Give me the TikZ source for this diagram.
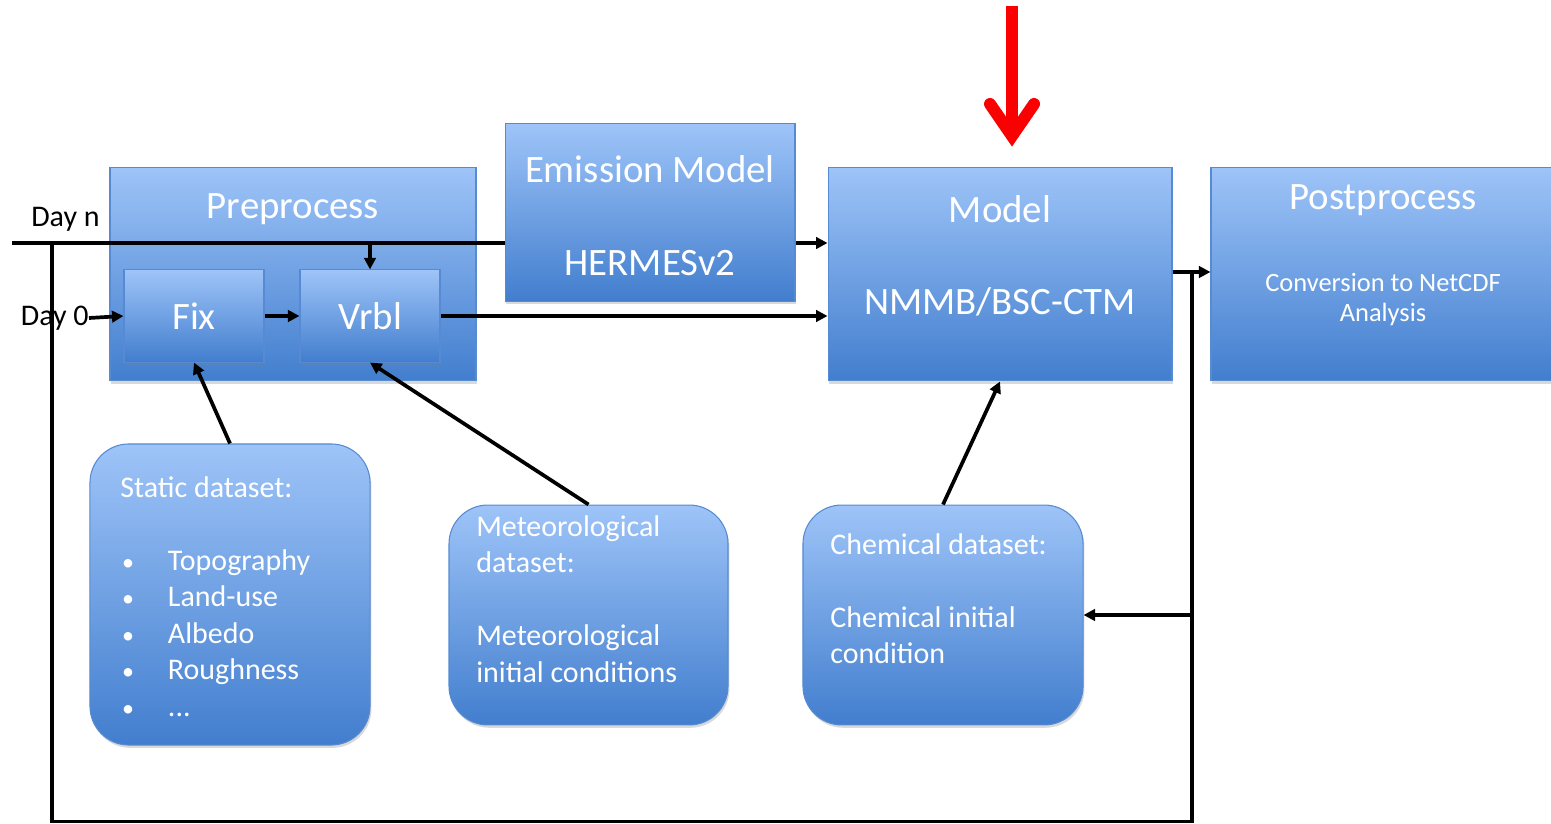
\documentclass[tikz,border=0pt]{standalone}
\usepackage{fontspec}
\setmainfont{Carlito}
\usetikzlibrary{arrows.meta,shadows}
\definecolor{boxtop}{RGB}{158,196,248}
\definecolor{boxbot}{RGB}{66,126,206}
\definecolor{boxline}{RGB}{86,138,210}
\definecolor{alarm}{RGB}{250,0,0}
\tikzset{
  blk/.style={draw=boxline,line width=0.6pt,top color=boxtop,bottom color=boxbot,
    inner sep=0pt,drop shadow={shadow xshift=0.8pt,shadow yshift=-1.6pt,opacity=0.3}},
  databox/.style={blk,rounded corners=22pt},
  ttl/.style={text=white,font=\fontsize{22}{26}\selectfont},
  sub/.style={text=white,font=\fontsize{15}{17}\selectfont,align=center},
  listtxt/.style={text=white,font=\fontsize{17}{20.7}\selectfont,align=left,anchor=north west,inner sep=0pt},
  daylbl/.style={font=\fontsize{17}{19}\selectfont},
  arr/.style={line width=2.1pt,-{Triangle[length=6.5pt,width=6.5pt]}},
  wire/.style={line width=2.1pt}
}
\newcommand{\itm}[1]{\makebox[27pt][l]{\hspace{1pt}\scalebox{0.8}{•}}#1}
\begin{document}
\begin{tikzpicture}[x=0.567pt,y=-0.567pt]
\useasboundingbox (0,0) rectangle (1551,824);
% upper row
\node[blk,minimum width=207.5pt,minimum height=121.3pt] (pre) at (293,274) {};
\node[ttl] (pretxt) at (293,209) {Preprocess};
% day n line runs over the preprocess box
\coordinate (dayn) at (12,243);
\coordinate (tl) at (52,243);
\draw[wire] (dayn) -- (505,243);
\node[blk,minimum width=164.4pt,minimum height=100.4pt] (emis) at (650,212.5) {};
\node[ttl] (emistxt) at (650,169) {Emission Model};
\node[ttl] (hermes) at (650,263) {HERMESv2};
\node[blk,ttl,minimum width=79.4pt,minimum height=52.2pt] (fix) at (194,316) {Fix};
\node[blk,ttl,minimum width=79.4pt,minimum height=52.2pt] (vrbl) at (370,316) {Vrbl};
\node[blk,minimum width=195pt,minimum height=121.3pt] (model) at (1000,274) {};
\node[ttl] (modeltxt) at (1000,209) {Model};
\node[ttl] (nmmb) at (1000,302) {NMMB/BSC-CTM};
\node[blk,minimum width=198.5pt,minimum height=121.3pt] (post) at (1386,274) {};
\node[ttl] (posttxt) at (1383,200) {Postprocess};
\node[sub] (conv) at (1383,300) {Conversion to NetCDF\\Analysis};
% labels
\node[daylbl,anchor=east,inner sep=0pt] (daynlbl) at (100,219) {Day n};
\node[daylbl,anchor=east,inner sep=0pt] (day0lbl) at (89,318) {Day 0};
% datasets
\node[databox,minimum width=158.8pt,minimum height=170.7pt] (static) at (230,594.5) {};
\node[listtxt] (statictxt) at (120,476) {Static dataset:\\[20.7pt]
  \itm{Topography}\\ \itm{Land-use}\\ \itm{Albedo}\\ \itm{Roughness}\\ \itm{...}};
\node[databox,minimum width=158.2pt,minimum height=124.7pt] (met) at (588.5,615) {};
\node[listtxt] (mettxt) at (476,515) {Meteorological\\dataset:\\[20.7pt]
  Meteorological\\initial conditions};
\node[databox,minimum width=158.8pt,minimum height=124.7pt] (chem) at (943,615) {};
\node[listtxt] (chemtxt) at (830,533) {Chemical dataset:\\[20.7pt]
  Chemical initial\\condition};
% connectors
\draw[arr] (emis.east |- dayn) -- (model.west |- dayn);
\draw[arr] (vrbl.north |- dayn) -- (vrbl.north);
\draw[arr] (day0lbl.east) -- (fix.west);
\draw[arr] (fix) -- (vrbl);
\draw[arr] (vrbl.east) -- (vrbl.east -| model.west);
\draw[arr] (static.north) -- (fix.south);
\draw[arr] (met.north) -- (vrbl.south);
\draw[arr] (chem.north) -- (model.south);
\coordinate (split) at (1192,272);
\coordinate (br) at (1192,821.5);
\coordinate (bl) at (52,821.5);
\draw[arr] (model.east |- split) -- (post.west |- split);
\draw[wire] (split) -- (br) -- (bl) -- (tl);
\draw[arr] (split |- chem.east) -- (chem.east);
% red marker
\coordinate (redtop) at (1012,6);
\coordinate (redtip) at (1012,136);
\draw[alarm,line width=6.8pt] (redtop) -- (redtip);
\draw[alarm,line width=6.8pt,line cap=round,miter limit=10] (990,104) -- (redtip) -- (1034,104);
\end{tikzpicture}
\end{document}
